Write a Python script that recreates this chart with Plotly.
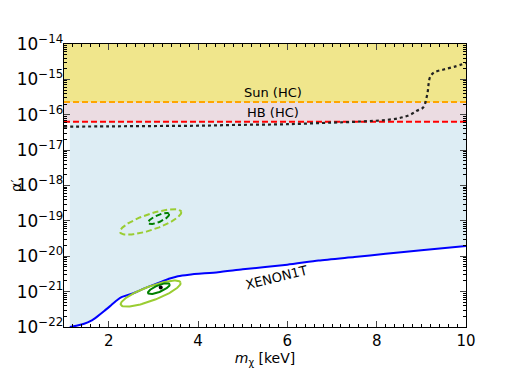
import numpy as np
import plotly.graph_objects as go

# XENON1T limit (lower edge of the excluded region)
xenon_m = [1.13, 1.3, 1.45, 1.6, 1.75, 1.9, 2.05, 2.2, 2.3, 2.45, 2.62, 2.8, 3.0, 3.2,
           3.37, 3.55, 3.8, 4.45, 5.0, 6.0, 6.7, 7.5, 8.2, 9.0, 10.0]
xenon_a = [1e-22, 1.10e-22, 1.23e-22, 1.48e-22, 2.0e-22, 2.82e-22, 4.07e-22, 5.89e-22,
           7.08e-22, 8.13e-22, 9.77e-22, 1.23e-21, 1.55e-21, 1.95e-21, 2.34e-21, 2.72e-21,
           3.02e-21, 3.55e-21, 4.27e-21, 5.75e-21, 7.59e-21, 9.55e-21, 1.17e-20, 1.48e-20,
           1.95e-20]

# dotted curve
dot_m = [1.0, 2.0, 3.0, 4.0, 5.0, 6.0, 7.0, 7.5, 7.8, 8.14, 8.5, 8.75, 8.9, 9.04, 9.13,
         9.2, 9.3, 9.5, 9.75, 10.0]
dot_a = [4.6e-17, 4.7e-17, 4.8e-17, 4.9e-17, 5.2e-17, 5.4e-17, 6.0e-17, 6.3e-17, 6.6e-17,
         7.0e-17, 8.0e-17, 1.0e-16, 1.3e-16, 1.6e-16, 3.6e-16, 1.2e-15, 1.6e-15, 1.9e-15,
         2.3e-15, 2.9e-15]

sun_hc = 2.3e-16
hb_hc = 6.3e-17
a_top = 1e-14
m_range = [1.0, 10.0]

# ellipses: centre (m, log10 a), major half-vector, minor half-vector (m, decades)
ell_center = [(2.94, -19.03), (3.117, -18.934), (2.94, -21.056), (3.124, -20.915)]
ell_u = [(0.684, 0.291), (0.235, 0.131), (0.669, 0.315), (0.243, 0.127)]
ell_v = [(0.057, -0.214), (0.032, -0.090), (0.056, -0.190), (0.028, -0.086)]
ell_color = ["#9acd32", "#008000", "#9acd32", "#008000"]
ell_dash = ["6px,3px", "6px,3px", "solid", "solid"]

best_fit = (3.166, 1.31e-21)

fig = go.Figure()

# light blue excluded region above XENON1T
fig.add_trace(go.Scatter(x=xenon_m, y=[a_top] * len(xenon_m), mode="lines",
                         line=dict(width=0), hoverinfo="skip", showlegend=False))
fig.add_trace(go.Scatter(x=xenon_m, y=xenon_a, mode="lines", line=dict(width=0),
                         line_shape="spline", fill="tonexty", fillcolor="#ddedf4",
                         hoverinfo="skip", showlegend=False))
# HB band
fig.add_trace(go.Scatter(x=m_range, y=[sun_hc, sun_hc], mode="lines", line=dict(width=0),
                         hoverinfo="skip", showlegend=False))
fig.add_trace(go.Scatter(x=m_range, y=[hb_hc, hb_hc], mode="lines", line=dict(width=0),
                         fill="tonexty", fillcolor="#ebdce2", hoverinfo="skip", showlegend=False))
# Sun band
fig.add_trace(go.Scatter(x=m_range, y=[a_top, a_top], mode="lines", line=dict(width=0),
                         hoverinfo="skip", showlegend=False))
fig.add_trace(go.Scatter(x=m_range, y=[sun_hc, sun_hc], mode="lines", line=dict(width=0),
                         fill="tonexty", fillcolor="#f0e68c", hoverinfo="skip", showlegend=False))

fig.add_trace(go.Scatter(x=m_range, y=[sun_hc, sun_hc], mode="lines",
                         line=dict(color="orange", width=2, dash="6px,3px"), showlegend=False))
fig.add_trace(go.Scatter(x=m_range, y=[hb_hc, hb_hc], mode="lines",
                         line=dict(color="red", width=2, dash="6px,3px"), showlegend=False))
fig.add_trace(go.Scatter(x=dot_m, y=dot_a, mode="lines", line_shape="spline",
                         line=dict(color="#222222", width=2.2, dash="dot"), showlegend=False))
fig.add_trace(go.Scatter(x=xenon_m, y=xenon_a, mode="lines", line_shape="spline",
                         line=dict(color="blue", width=2, smoothing=0.6), showlegend=False))

t = np.linspace(0, 2 * np.pi, 120)
for c, u, v, col, dash in zip(ell_center, ell_u, ell_v, ell_color, ell_dash):
    ex = c[0] + u[0] * np.cos(t) + v[0] * np.sin(t)
    ey = 10 ** (c[1] + u[1] * np.cos(t) + v[1] * np.sin(t))
    fig.add_trace(go.Scatter(x=ex, y=ey, mode="lines",
                             line=dict(color=col, width=2, dash=dash), showlegend=False))

fig.add_trace(go.Scatter(x=[best_fit[0]], y=[best_fit[1]], mode="markers",
                         marker=dict(color="black", size=4), showlegend=False))

fig.add_annotation(x=5.67, y=-15.38, text="Sun (HC)", showarrow=False,
                   font=dict(size=13, color="black"))
fig.add_annotation(x=5.67, y=-15.95, text="HB (HC)", showarrow=False,
                   font=dict(size=13, color="black"))
fig.add_annotation(x=5.76, y=-20.61, text="XENON1T", showarrow=False, textangle=-14,
                   font=dict(size=13, color="black"))

# the page body adds an 8px margin, so the figure is 8px smaller and shifted
fig.update_layout(
    width=510, height=362,
    margin=dict(l=56, r=52, t=36, b=43),
    plot_bgcolor="white", paper_bgcolor="white",
    font=dict(family="DejaVu Sans", size=14, color="black"),
    showlegend=False,
)
fig.update_xaxes(
    range=m_range, tick0=0, dtick=2, ticks="inside", ticklen=6, mirror="allticks",
    showline=True, linecolor="black", linewidth=1.2, showgrid=False, zeroline=False,
    automargin=False, tickfont=dict(size=15),
    minor=dict(ticks="inside", ticklen=3, dtick=0.2, tick0=0, tickcolor="black"),
    title=dict(text="<i>m</i><sub>χ</sub> [keV]", font=dict(size=14), standoff=4),
)
fig.update_yaxes(
    type="log", range=[-22, -14], dtick=1, exponentformat="power", ticks="inside",
    ticklen=6, mirror="allticks", showline=True, linecolor="black", linewidth=1.2,
    showgrid=False, zeroline=False, automargin=False, tickfont=dict(size=13.5),
    ticklabelstandoff=-3,
    minor=dict(ticks="inside", ticklen=3, dtick="D1", tickcolor="black"),
    title=dict(text="α′", font=dict(size=14), standoff=3),
)

fig.write_html("out.html")
